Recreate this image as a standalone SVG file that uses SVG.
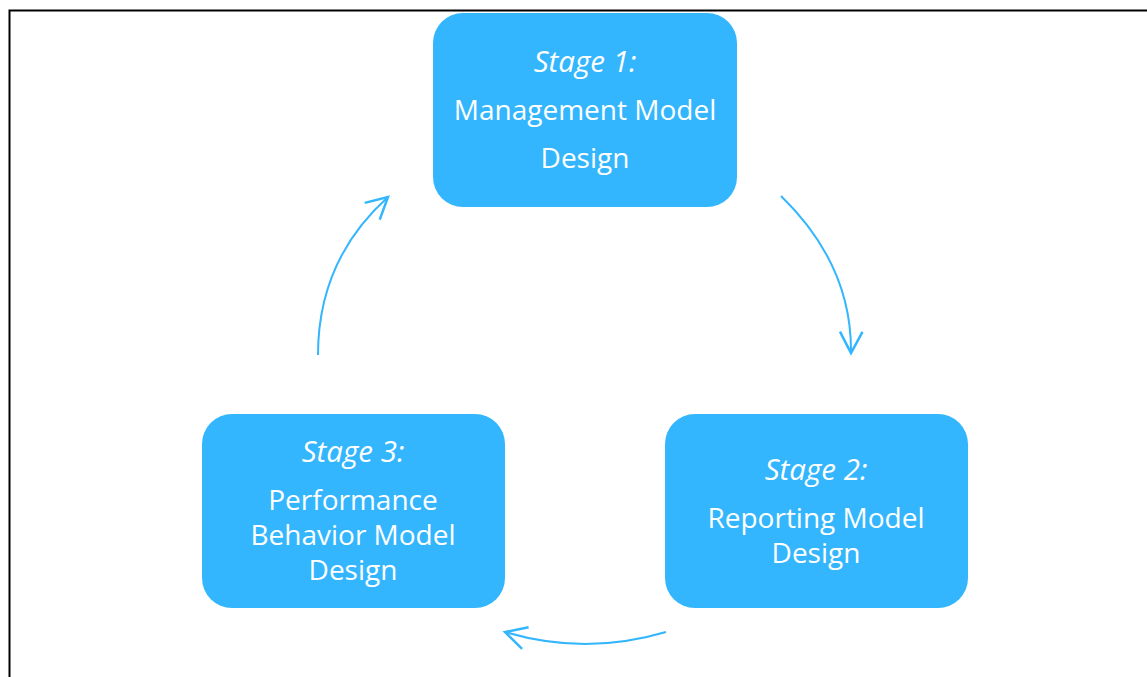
<svg xmlns="http://www.w3.org/2000/svg" width="1147" height="677" viewBox="0 0 1147 677">
<style>
.box{fill:#33B6FE}
.t{font-family:"Open Sans","Liberation Sans",sans-serif;font-size:28px;fill:#ffffff;text-anchor:middle}
.i{font-style:italic;font-size:29.5px}
.c{fill:none;stroke:#33B6FE;stroke-width:2}
</style>
<defs>
<marker id="ah" markerUnits="userSpaceOnUse" markerWidth="30" markerHeight="30" viewBox="-20 -12 24 24" refX="0" refY="0" orient="auto">
<path d="M-17,-9 L0,0 L-17,9" fill="none" stroke="#33B6FE" stroke-width="2"/>
</marker>
</defs>
<rect width="1147" height="677" fill="#ffffff"/>
<path d="M9.5,677 V10.5 H1147" fill="none" stroke="#000" stroke-width="2"/>
<g id="connectors">
<path class="c" d="M318,355 Q318,260 388,197" marker-end="url(#ah)"/>
<path class="c" d="M781,196 Q852,265 851,353" marker-end="url(#ah)"/>
<path class="c" d="M666,632 Q585,656 505,632" marker-end="url(#ah)"/>
</g>
<g id="stage1">
<rect class="box" x="433" y="13" width="304" height="194" rx="30"/>
<text class="t i" x="585" y="72">Stage 1:</text>
<text class="t" x="585" y="120">Management Model</text>
<text class="t" x="585" y="168">Design</text>
</g>
<g id="stage2">
<rect class="box" x="665" y="414" width="303" height="194" rx="30"/>
<text class="t i" x="816" y="480">Stage 2:</text>
<text class="t" x="816" y="528">Reporting Model</text>
<text class="t" x="816" y="563">Design</text>
</g>
<g id="stage3">
<rect class="box" x="202" y="414" width="303" height="194" rx="30"/>
<text class="t i" x="353" y="462">Stage 3:</text>
<text class="t" x="353" y="510">Performance</text>
<text class="t" x="353" y="545">Behavior Model</text>
<text class="t" x="353" y="580">Design</text>
</g>
</svg>
